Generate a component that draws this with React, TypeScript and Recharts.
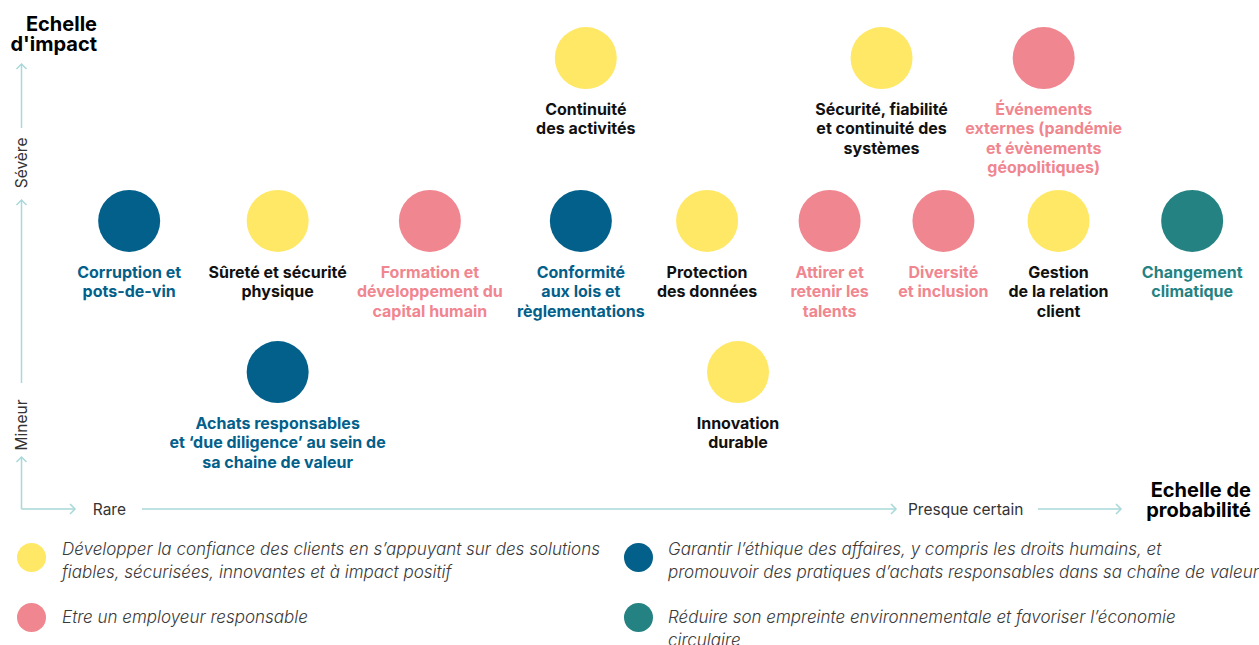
import React from "react";
import { ScatterChart, Scatter, XAxis, YAxis, Customized } from "recharts";

// piliers (ordre de la légende : gauche/droite, ligne par ligne)
const PILLARS = [
  "Développer la confiance des clients en s’appuyant sur des solutions\nfiables, sécurisées, innovantes et à impact positif",
  "Garantir l’éthique des affaires, y compris les droits humains, et\npromouvoir des pratiques d’achats responsables dans sa chaîne de valeur",
  "Etre un employeur responsable",
  "Réduire son empreinte environnementale et favoriser l’économie\ncirculaire",
];
const PILLAR_COLORS = ["#FEE865", "#03608A", "#F0868F", "#258282"];
const LABEL_COLORS = ["#111111", "#03608A", "#F0868F", "#258282"];

// enjeux
const TOPICS = [
  "Corruption et\npots-de-vin",
  "Sûreté et sécurité\nphysique",
  "Formation et\ndéveloppement du\ncapital humain",
  "Conformité\naux lois et\nrèglementations",
  "Protection\ndes données",
  "Attirer et\nretenir les\ntalents",
  "Diversité\net inclusion",
  "Gestion\nde la relation\nclient",
  "Changement\nclimatique",
  "Continuité\ndes activités",
  "Sécurité, fiabilité\net continuité des\nsystèmes",
  "Événements\nexternes (pandémie\net évènements\ngéopolitiques)",
  "Achats responsables\net ‘due diligence’ au sein de\nsa chaine de valeur",
  "Innovation\ndurable",
];
const TOPIC_PILLAR = [1, 0, 2, 1, 0, 2, 2, 0, 3, 0, 0, 2, 1, 0];
const PROBABILITY = [0.87, 2.07, 3.3, 4.52, 5.54, 6.53, 7.45, 8.38, 9.46, 4.56, 6.95, 8.26, 2.07, 5.79];
const IMPACT = [5.66, 5.66, 5.66, 5.66, 5.66, 5.66, 5.66, 5.66, 5.66, 8.86, 8.86, 8.86, 2.69, 2.69];

const X_TICKS = [0.71, 7.63];
const X_TICK_LABELS = ["Rare", "Presque certain"];
const Y_TICKS = [1.65, 6.8];
const Y_TICK_LABELS = ["Mineur", "Sévère"];

const FONT = "Inter, 'Noto Sans', sans-serif";
const AXIS_COLOR = "#A8D8D8";

const points = TOPICS.map((t, i) => ({
  x: PROBABILITY[i],
  y: IMPACT[i],
  label: t,
  pillar: TOPIC_PILLAR[i],
}));

function TopicShape(props: any) {
  const { cx, cy, payload } = props;
  const lines: string[] = payload.label.split("\n");
  return (
    <g>
      <circle cx={cx} cy={cy} r={31} fill={PILLAR_COLORS[payload.pillar]} />
      <text
        x={cx}
        y={cy + 57}
        textAnchor="middle"
        fontFamily={FONT}
        fontWeight={700}
        fontSize={16}
        fill={LABEL_COLORS[payload.pillar]}
      >
        {lines.map((l, i) => (
          <tspan key={i} x={cx} dy={i === 0 ? 0 : 19.3}>
            {l}
          </tspan>
        ))}
      </text>
    </g>
  );
}

function XTick(props: any) {
  const { x, y, payload } = props;
  const idx = X_TICKS.indexOf(payload.value);
  return (
    <text x={x} y={y} textAnchor="middle" dominantBaseline="central" fontFamily={FONT} fontSize={15.5} fill="#333">
      {X_TICK_LABELS[idx]}
    </text>
  );
}

function YTick(props: any) {
  const { x, y, payload } = props;
  const idx = Y_TICKS.indexOf(payload.value);
  return (
    <text
      x={x}
      y={y}
      transform={`rotate(-90 ${x} ${y})`}
      textAnchor="middle"
      dominantBaseline="central"
      fontFamily={FONT}
      fontSize={15.5}
      fill="#333"
    >
      {Y_TICK_LABELS[idx]}
    </text>
  );
}

// flèches des axes + titres
function AxisDecor() {
  const up = (x: number, y: number) => `M${x - 5} ${y + 5} L${x} ${y} L${x + 5} ${y + 5}`;
  const right = (x: number, y: number) => `M${x - 5} ${y - 5} L${x} ${y} L${x - 5} ${y + 5}`;
  const ax = 21.5;
  const ay = 509;
  return (
    <g>
      <g stroke={AXIS_COLOR} strokeWidth={1.5} fill="none">
        <path d={`M${ax} 128 L${ax} 64`} />
        <path d={up(ax, 64)} />
        <path d={`M${ax} 383 L${ax} 200`} />
        <path d={up(ax, 200)} />
        <path d={`M${ax} ${ay} L${ax} 457 M${ax} ${ay} L75 ${ay}`} />
        <path d={up(ax, 457)} />
        <path d={right(75, ay)} />
        <path d={`M142 ${ay} L896 ${ay}`} />
        <path d={right(896, ay)} />
        <path d={`M1038 ${ay} L1121 ${ay}`} />
        <path d={right(1121, ay)} />
      </g>
      <text textAnchor="end" fontFamily={FONT} fontWeight={700} fontSize={20} fill="#000">
        <tspan x={97} y={31}>Echelle</tspan>
        <tspan x={97} y={51}>d'impact</tspan>
      </text>
      <text textAnchor="end" fontFamily={FONT} fontWeight={700} fontSize={20} fill="#000">
        <tspan x={1251} y={497}>Echelle de</tspan>
        <tspan x={1251} y={517}>probabilité</tspan>
      </text>
    </g>
  );
}

const LEGEND_POS = [
  { left: 17, top: 543, textLeft: 62, textTop: 538 },
  { left: 624, top: 543, textLeft: 668, textTop: 538 },
  { left: 17, top: 603, textLeft: 62, textTop: 606 },
  { left: 624, top: 603, textLeft: 668, textTop: 606 },
];

export default function App() {
  return (
    <div
      style={{
        position: "absolute",
        left: 0,
        top: 0,
        width: 1259,
        height: 645,
        overflow: "hidden",
        background: "#fff",
        fontFamily: FONT,
      }}
    >
      <ScatterChart width={1259} height={645} margin={{ top: 0, right: 0, bottom: 106, left: 0 }}>
        <XAxis
          type="number"
          dataKey="x"
          domain={[0, 10]}
          ticks={X_TICKS}
          tick={<XTick />}
          axisLine={false}
          tickLine={false}
          tickSize={0}
          tickMargin={0}
          height={30}
          interval={0}
        />
        <YAxis
          type="number"
          dataKey="y"
          domain={[0, 10]}
          ticks={Y_TICKS}
          tick={<YTick />}
          axisLine={false}
          tickLine={false}
          tickSize={0}
          tickMargin={0}
          width={21.5}
          interval={0}
        />
        <Customized component={<AxisDecor />} />
        {PILLARS.map((name, k) => (
          <Scatter
            key={k}
            name={name}
            data={points.filter((p) => p.pillar === k)}
            fill={PILLAR_COLORS[k]}
            shape={<TopicShape />}
            isAnimationActive={false}
          />
        ))}
      </ScatterChart>
      {PILLARS.map((name, k) => (
        <React.Fragment key={k}>
          <div
            style={{
              position: "absolute",
              left: LEGEND_POS[k].left,
              top: LEGEND_POS[k].top,
              width: 29,
              height: 29,
              borderRadius: "50%",
              background: PILLAR_COLORS[k],
            }}
          />
          <div
            style={{
              position: "absolute",
              left: LEGEND_POS[k].textLeft,
              top: LEGEND_POS[k].textTop,
              whiteSpace: "pre",
              fontStyle: "italic",
              fontWeight: 300,
              fontSize: 17,
              lineHeight: "23px",
              color: "#3a3a3a",
            }}
          >
            {name}
          </div>
        </React.Fragment>
      ))}
    </div>
  );
}
